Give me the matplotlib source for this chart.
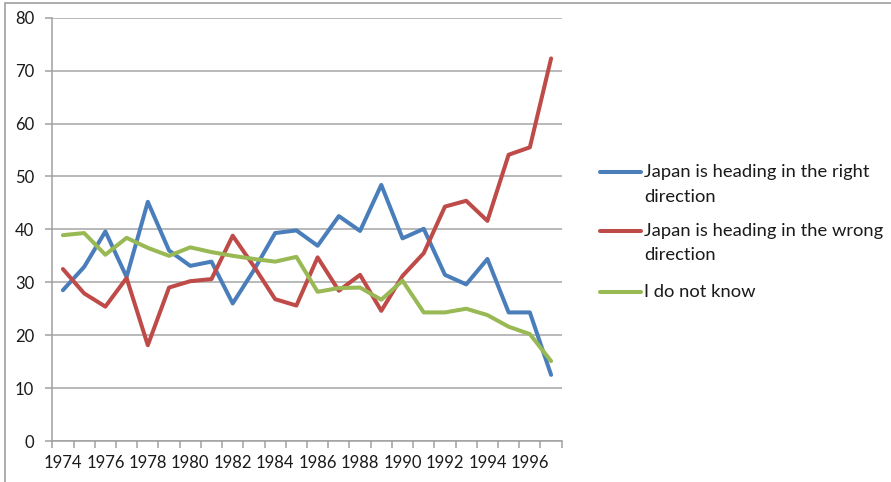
import matplotlib
matplotlib.use("Agg")
import matplotlib.pyplot as plt
from matplotlib.lines import Line2D
from matplotlib.patches import Rectangle

years = list(range(1974, 1998))
right_dir = [28.5, 32.9, 39.6, 31.0, 45.2, 36.0, 33.1, 33.9, 26.0, 32.3, 39.3, 39.8,
             36.9, 42.5, 39.7, 48.4, 38.3, 40.1, 31.4, 29.6, 34.4, 24.3, 24.3, 12.5]
wrong_dir = [32.5, 27.9, 25.4, 30.8, 18.1, 29.0, 30.2, 30.6, 38.8, 33.0, 26.8, 25.6,
             34.7, 28.4, 31.4, 24.6, 31.2, 35.5, 44.3, 45.4, 41.6, 54.1, 55.5, 72.3]
dont_know = [38.9, 39.3, 35.2, 38.4, 36.5, 35.0, 36.6, 35.7, 35.0, 34.4, 33.9, 34.8,
             28.2, 28.9, 29.0, 26.7, 30.3, 24.3, 24.3, 25.0, 23.8, 21.6, 20.2, 15.1]
series_names = ["Japan is heading in the right\ndirection",
                "Japan is heading in the wrong\ndirection",
                "I do not know"]
colors = ["#4A7EBB", "#BE4B48", "#98B954"]
y_ticks = [0, 10, 20, 30, 40, 50, 60, 70, 80]

plt.rcParams['font.family'] = ['Lato', 'DejaVu Sans']
W, H = 891, 482
fig = plt.figure(figsize=(W / 100, H / 100), dpi=100)
fig.patch.set_facecolor("white")

# chart frame
fig.add_artist(Rectangle((5 / W, -0.1), 1.2, 1 - 3 / H + 0.1, transform=fig.transFigure,
                         fill=False, edgecolor="#A0A0A0", linewidth=1.2))

left, right, top, bottom = 52.3, 561.7, 17.7, 441
ax = fig.add_axes([left / W, (H - bottom) / H, (right - left) / W, (bottom - top) / H])

x = list(range(len(years)))
for vals, c in zip([right_dir, wrong_dir, dont_know], colors):
    ax.plot(x, vals, color=c, linewidth=2.9, solid_joinstyle="round", solid_capstyle="round",
            clip_on=False, zorder=3)

ax.set_xlim(-0.5, len(years) - 0.5)
ax.set_ylim(0, 80)
ax.set_yticks(y_ticks)
ax.yaxis.grid(True, color="#A6A6A6", linewidth=1.1)
ax.set_axisbelow(True)

ax.set_xticks([i for i in x if years[i] % 2 == 0])
ax.set_xticklabels([str(years[i]) for i in x if years[i] % 2 == 0])
ax.set_xticks([i - 0.5 for i in range(len(years) + 1)], minor=True)
ax.tick_params(axis="x", which="major", length=0, pad=10, labelsize=12, labelcolor="#1a1a1a")
ax.tick_params(axis="x", which="minor", length=5, width=1.1, color="#A0A0A0", direction="out")
ax.tick_params(axis="y", length=5, width=1.1, color="#A0A0A0", pad=8, labelsize=12,
               labelcolor="#1a1a1a")

for s in ["top", "right"]:
    ax.spines[s].set_visible(False)
for s in ["left", "bottom"]:
    ax.spines[s].set_color("#A0A0A0")
    ax.spines[s].set_linewidth(1.1)

# legend
leg_y = [172, 231, 292]
for name, c, yy in zip(series_names, colors, leg_y):
    fig.add_artist(Line2D([600 / W, 641 / W], [1 - yy / H, 1 - yy / H], color=c,
                          linewidth=2.9, solid_capstyle="round", transform=fig.transFigure))
    for k, line in enumerate(name.split("\n")):
        fig.text(644 / W, 1 - (yy + 24.5 * k) / H, line, fontsize=13.2, color="#1a1a1a",
                 va="center", ha="left")

fig.savefig("out.png", dpi=100)
